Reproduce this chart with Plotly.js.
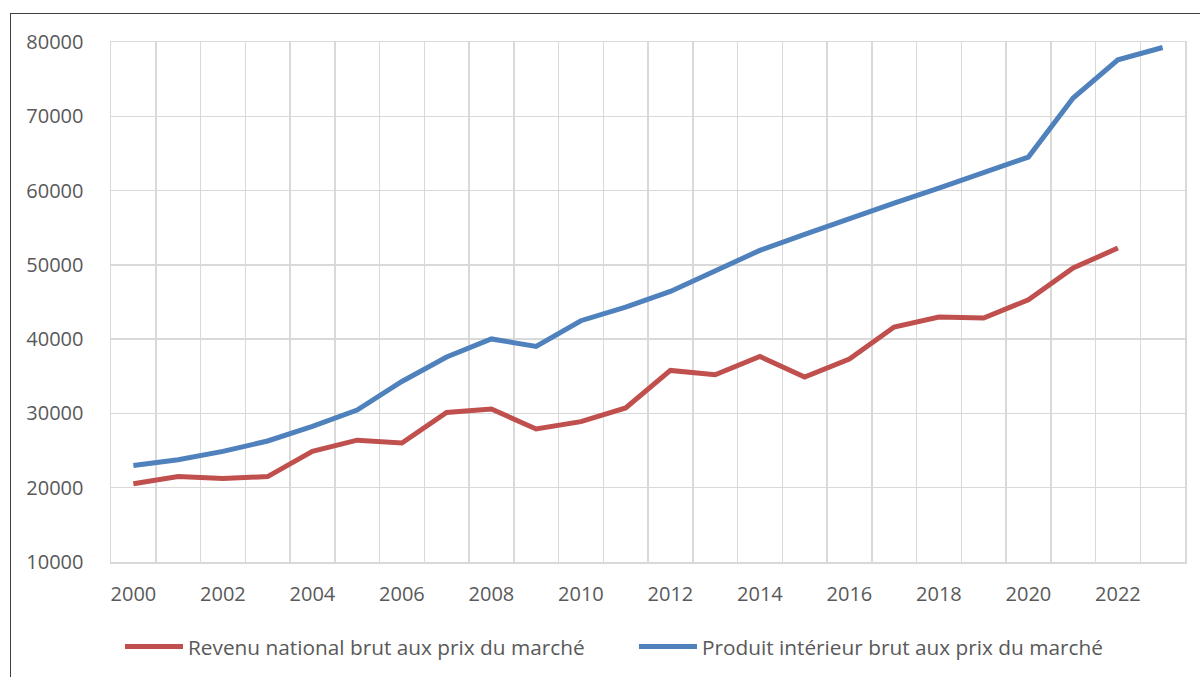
<!DOCTYPE html>
<html>
<head>
<meta charset="utf-8">
<script src="https://cdn.plot.ly/plotly-3.0.1.min.js"></script>
<style>
  html, body { margin: 0; padding: 0; background: #fff; }
  #wrap { position: relative; width: 1200px; height: 677px; overflow: hidden; }
  #chart { width: 1200px; height: 677px; }
  #frame { position: absolute; left: 10px; top: 13px; width: 1300px; height: 800px;
           border-left: 1.5px solid #404040; border-top: 1.5px solid #404040; pointer-events: none; }
</style>
</head>
<body>
<div id="wrap">
  <div id="chart"></div>
  <div id="frame"></div>
</div>
<script>
const years = [2000,2001,2002,2003,2004,2005,2006,2007,2008,2009,2010,2011,2012,2013,2014,2015,2016,2017,2018,2019,2020,2021,2022,2023];
const rnbName = "Revenu national brut aux prix du marché";
const pibName = "Produit intérieur brut aux prix du marché";
const rnb = [20540,21500,21250,21500,24890,26400,26020,30140,30600,27900,28900,30730,35790,35210,37670,34900,37320,41630,42980,42840,45300,49570,52260,null];
const pib = [23000,23770,24890,26290,28250,30450,34300,37600,40030,39020,42480,44320,46420,49110,51950,54100,56300,58320,60340,62360,64510,72450,77600,79260];
const xTickVals = [2000,2002,2004,2006,2008,2010,2012,2014,2016,2018,2020,2022];
const yTickVals = [10000,20000,30000,40000,50000,60000,70000,80000];

const font = { family: "'Open Sans', Lato, sans-serif", size: 20, color: "#595959" };
const legFont = { family: "'Open Sans', Lato, sans-serif", size: 20.8, color: "#595959" };

const traces = [
  { x: years, y: rnb, name: rnbName, type: "scatter", mode: "lines", legend: "legend",
    line: { color: "#C0504D", width: 5 }, connectgaps: false },
  { x: years, y: pib, name: pibName, type: "scatter", mode: "lines", legend: "legend2",
    line: { color: "#4F81BD", width: 5 } }
];

const legBase = { orientation: "h", xref: "container", xanchor: "left",
                  y: 0.0443, yref: "container", yanchor: "middle",
                  font: legFont, itemwidth: 58, bgcolor: "rgba(0,0,0,0)" };

const layout = {
  width: 1200, height: 677,
  margin: { l: 111, r: 15, t: 42, b: 115 },
  paper_bgcolor: "#fff", plot_bgcolor: "#fff",
  font: font,
  showlegend: true,
  legend: Object.assign({}, legBase, { x: 0.1 }),
  legend2: Object.assign({}, legBase, { x: 0.5283 }),
  xaxis: {
    type: "linear", range: [1999.5, 2023.5],
    tickmode: "array", tickvals: xTickVals, ticktext: xTickVals.map(String),
    showgrid: false, zeroline: false,
    ticks: "", ticklabelstandoff: 13,
    showline: true, mirror: true, linecolor: "#D9D9D9", linewidth: 1.5,
    minor: { tickmode: "linear", tick0: 1999.5, dtick: 1, showgrid: true, gridcolor: "#D9D9D9", gridwidth: 1.5, ticks: "" },
    tickfont: font, fixedrange: true
  },
  yaxis: {
    range: [10000, 80000],
    tickmode: "array", tickvals: yTickVals, ticktext: yTickVals.map(String),
    showgrid: true, gridcolor: "#D9D9D9", gridwidth: 1.5, zeroline: false,
    ticks: "", ticklabelstandoff: 22,
    showline: true, mirror: true, linecolor: "#D9D9D9", linewidth: 1.5,
    tickfont: font, fixedrange: true
  }
};

Plotly.newPlot("chart", traces, layout, { displayModeBar: false, staticPlot: true });
</script>
</body>
</html>
